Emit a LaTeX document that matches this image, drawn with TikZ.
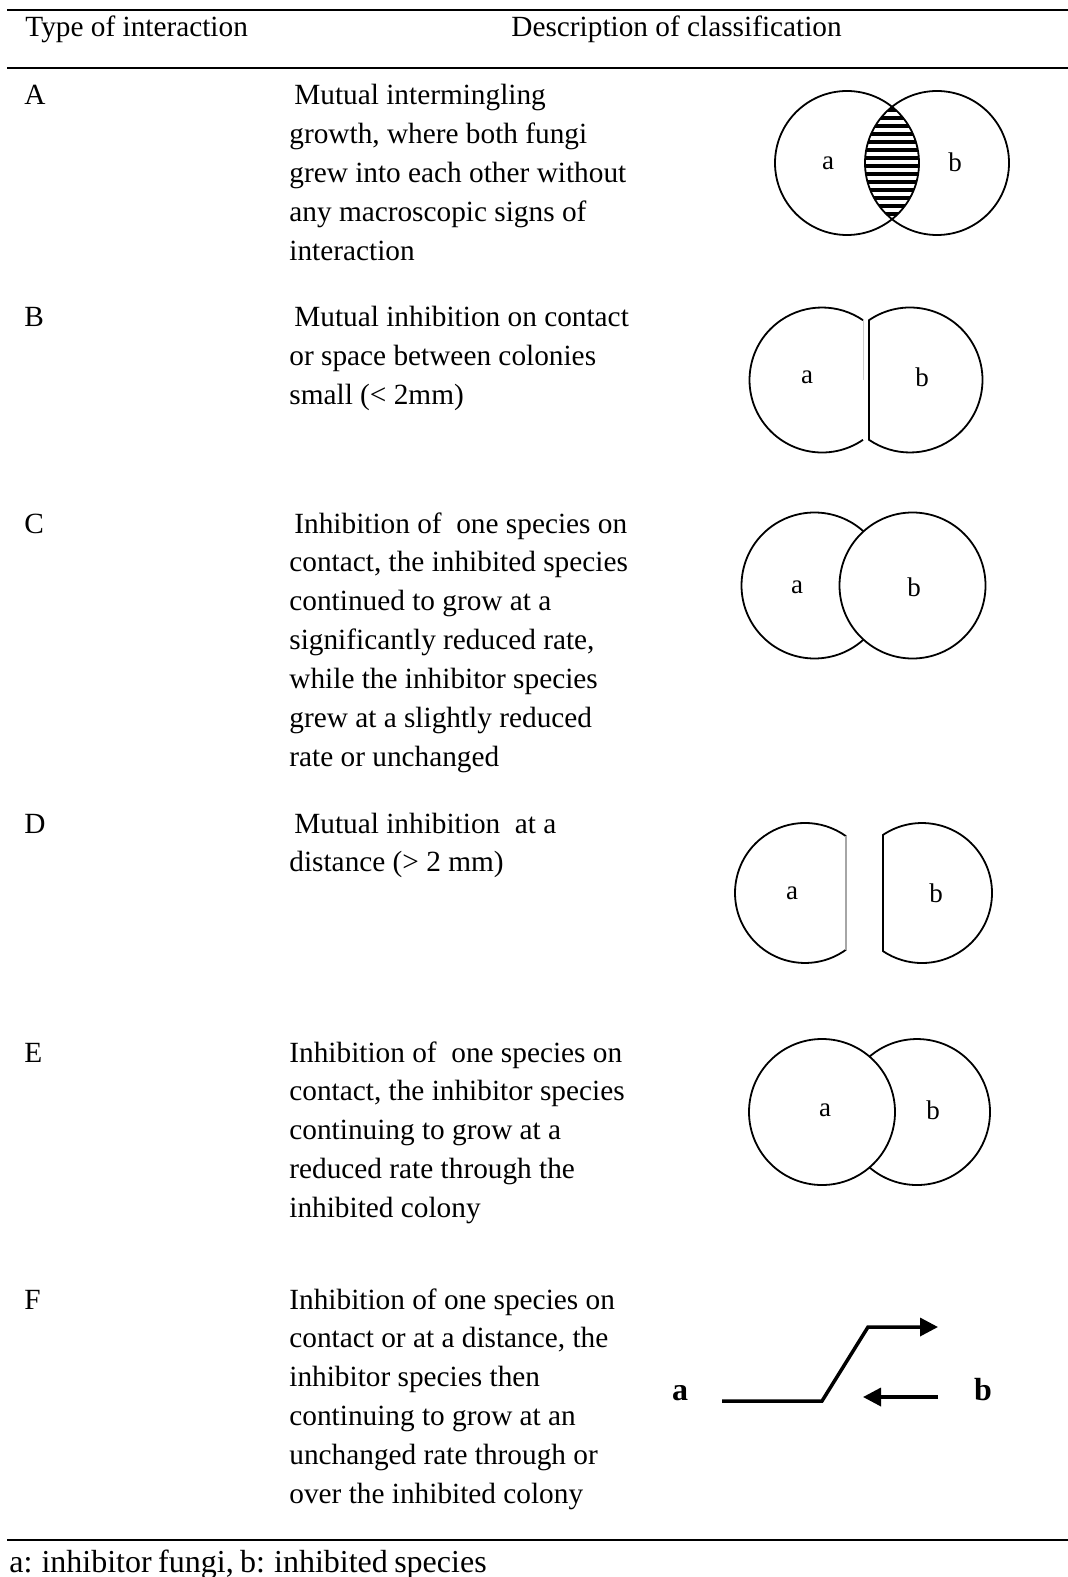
\documentclass[tikz,border=0pt]{standalone}
\usepackage{fontspec}
\setmainfont{Liberation Serif}
\usetikzlibrary{arrows.meta}
\newcommand{\setspaces}[1]{\spaceskip=#1em\relax}

\begin{document}
\begin{tikzpicture}[x=0.5pt,y=-0.5pt,
                    body node/.style={font=\fontsize{14.65}{19.45}\selectfont,inner sep=0pt,anchor=base west},
                    desc node/.style={body node,text width=185pt,align=left,execute at begin node={\setspaces{0.25}}},
                    label node/.style={font=\fontsize{13.5}{15}\selectfont,inner sep=0pt},
                    big label/.style={font=\fontsize{16}{18}\selectfont\bfseries,inner sep=0pt},
                    colony/.style={line width=0.9pt},
                    growth/.style={line width=1.75pt,-{Triangle[length=9pt,width=9pt]}},
                    rule/.style={line width=1pt}]
  \useasboundingbox (0,0) rectangle (1068,1577);

  \draw[rule] (7,10) -- (1068,10);
  \draw[line width=0.75pt] (7,68) -- (1068,68);
  \draw[rule] (7,1540) -- (1068,1540);

  \node[body node] (type) at (25,37) {Type of interaction};
  \node[body node] (descr) at (511,37) {Description of classification};

  \node[body node] (A) at (24,105) {A};
  \node[body node] (B) at (24,327) {B};
  \node[body node] (C) at (24,533) {C};
  \node[body node] (D) at (24,833) {D};
  \node[body node] (E) at (24,1062) {E};
  \node[body node] (F) at (24,1309) {F};

  \node[desc node] (dA) at (289,105) {\hspace*{2.5pt}Mutual intermingling\\growth, where both fungi\\grew into each other without\\any macroscopic signs of\\interaction};
  \node[desc node] (dB) at (289,327) {\hspace*{2.5pt}Mutual inhibition on contact\\or space between colonies\\small (< 2mm)};
  \node[desc node] (dC) at (289,533) {\hspace*{2.5pt}Inhibition of\ \ one species on\\contact, the inhibited species\\continued to grow at a\\significantly reduced rate,\\while the inhibitor species\\grew at a slightly reduced\\rate or unchanged};
  \node[desc node] (dD) at (289,833) {\hspace*{2.5pt}Mutual inhibition\ \ at a\\distance (> 2 mm)};
  \node[desc node] (dE) at (289,1062) {Inhibition of\ \ one species on\\contact, the inhibitor species\\continuing to grow at a\\reduced rate through the\\inhibited colony};
  \node[desc node] (dF) at (289,1309) {Inhibition of one species on\\contact or at a distance, the\\inhibitor species then\\continuing to grow at an\\unchanged rate through or\\over the inhibited colony};

  \begin{scope}
    \clip (847,163) circle [radius=72];
    \clip (937,163) circle [radius=72];
    \foreach \yy in {110,118,...,222}
      \draw[line width=2.2pt] (855,\yy) -- (930,\yy);
  \end{scope}
  \draw[colony] (847,163) circle [radius=72];
  \draw[colony] (937,163) circle [radius=72];
  \node[label node] (aA) at (828,163) {a};
  \node[label node] (bA) at (955,162) {b};

  \draw[colony] (863,439.8) arc [start angle=55.57,end angle=304.43,radius=72.5];
  \draw[gray!40,line width=0.5pt] (863,320.2) -- (863,380);
  \draw[colony] (869,320.2) arc [start angle=-124.43,end angle=124.43,radius=72.5] -- cycle;
  \node[label node] (aB) at (807,377) {a};
  \node[label node] (bB) at (922,377) {b};

  \draw[colony] (912.5,585.5) circle [radius=73];
  \draw[colony] (863.5,639.6) arc [start angle=47.84,end angle=312.16,radius=73];
  \node[label node] (aC) at (797,587) {a};
  \node[label node] (bC) at (914,587) {b};

  \draw[colony] (846,949.7) arc [start angle=54.15,end angle=305.85,radius=70];
  \draw[gray!70,line width=0.7pt] (846,836.3) -- (846,949.7);
  \draw[colony] (883,834.9) arc [start angle=-123.86,end angle=123.86,radius=70] -- cycle;
  \node[label node] (aD) at (792,893) {a};
  \node[label node] (bD) at (936,893) {b};

  \draw[colony] (822,1112) circle [radius=73];
  \draw[colony] (869.5,1056.6) arc [start angle=-130.6,end angle=130.6,radius=73];
  \node[label node] (aE) at (825,1110) {a};
  \node[label node] (bE) at (933,1110) {b};

  \node[big label] (aF) at (680,1393) {a};
  \node[big label] (bF) at (983,1390) {b};
  \coordinate (f1) at (722,1401);
  \coordinate (f2) at (822,1401);
  \coordinate (f3) at (868,1327);
  \coordinate (f4) at (938,1327);
  \coordinate (g1) at (938,1397);
  \coordinate (g2) at (863,1397);
  \draw[growth] (f1) -- (f2) -- (f3) -- (f4);
  \draw[growth] (g1) -- (g2);

  \node[anchor=base west,inner sep=0pt,font=\fontsize{16}{19}\selectfont\setspaces{0.2}] (note) at (9,1572) {a: inhibitor fungi, b: inhibited species};
\end{tikzpicture}
\end{document}
